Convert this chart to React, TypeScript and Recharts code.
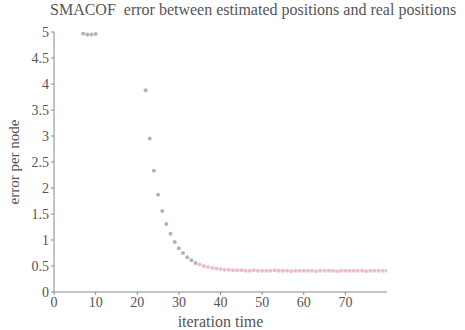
import { ScatterChart, Scatter, XAxis, YAxis, Label } from 'recharts';

// iterations whose error stays inside the plotted range (earlier ones are above 5)
const earlyIter = [7, 8, 9, 10];
const earlyErr = [4.97, 4.95, 4.95, 4.96];

const decayIter = [22, 23, 24, 25, 26, 27, 28, 29, 30, 31, 32, 33, 34];
const decayErr = [3.88, 2.95, 2.33, 1.87, 1.56, 1.31, 1.12, 0.96, 0.84, 0.75, 0.67, 0.61, 0.56];

const tailIter = [
  35, 36, 37, 38, 39, 40, 41, 42, 43, 44, 45, 46, 47, 48, 49, 50, 51, 52, 53, 54, 55, 56,
  57, 58, 59, 60, 61, 62, 63, 64, 65, 66, 67, 68, 69, 70, 71, 72, 73, 74, 75, 76, 77, 78, 79, 80,
];
const tailErr = [
  0.53, 0.5, 0.48, 0.46, 0.45, 0.44, 0.43, 0.43, 0.42, 0.42, 0.42, 0.41, 0.41, 0.42, 0.41, 0.41,
  0.41, 0.41, 0.42, 0.41, 0.41, 0.41, 0.4, 0.41, 0.41, 0.41, 0.41, 0.41, 0.4, 0.41, 0.41, 0.41,
  0.41, 0.4, 0.41, 0.41, 0.41, 0.41, 0.41, 0.41, 0.4, 0.41, 0.41, 0.41, 0.41, 0.41,
];

const xTicks = [0, 10, 20, 30, 40, 50, 60, 70];
const yTicks = [0, 0.5, 1, 1.5, 2, 2.5, 3, 3.5, 4, 4.5, 5];

const toPoints = (xs: number[], ys: number[]) => xs.map((x, i) => ({ x, y: ys[i] }));

const grayPts = [...toPoints(earlyIter, earlyErr), ...toPoints(decayIter, decayErr)];
const pinkPts = toPoints(tailIter, tailErr);

const font = '"Times New Roman", "Liberation Serif", Times, serif';
const textColor = '#555';

const Dot = (color: string) => (props: any) => (
  <circle cx={props.cx} cy={props.cy} r={2} fill={color} opacity={0.75} />
);

export default function App() {
  return (
    <div style={{ position: 'absolute', left: 0, top: 0, width: 465, height: 330, background: '#fff' }}>
      <div
        style={{
          position: 'absolute',
          left: 50,
          top: 1,
          fontFamily: font,
          fontSize: 16,
          color: textColor,
          whiteSpace: 'nowrap',
        }}
      >
        SMACOF&nbsp; error between estimated positions and real positions
      </div>
      <ScatterChart width={465} height={330} margin={{ top: 32, right: 78, bottom: 0, left: 0 }}>
        <XAxis
          type="number"
          dataKey="x"
          domain={[0, 80]}
          ticks={xTicks}
          allowDataOverflow
          height={38}
          stroke="#888"
          tickSize={3}
          tick={{ fill: textColor, fontSize: 14, fontFamily: font }}
        >
          <Label
            value="iteration time"
            position="insideBottom"
            offset={3}
            style={{ fill: textColor, fontSize: 16, fontFamily: font }}
          />
        </XAxis>
        <YAxis
          type="number"
          dataKey="y"
          domain={[0, 5]}
          ticks={yTicks}
          allowDataOverflow
          width={54}
          stroke="#888"
          tickSize={3}
          tick={{ fill: textColor, fontSize: 14, fontFamily: font }}
        >
          <Label
            value="error per node"
            angle={-90}
            position="insideLeft"
            offset={14}
            style={{ fill: textColor, fontSize: 15, fontFamily: font, textAnchor: 'middle' }}
          />
        </YAxis>
        <Scatter data={grayPts} isAnimationActive={false} shape={Dot('#9a9a9a')} />
        <Scatter data={pinkPts} isAnimationActive={false} shape={Dot('#e4a9b8')} />
      </ScatterChart>
    </div>
  );
}
